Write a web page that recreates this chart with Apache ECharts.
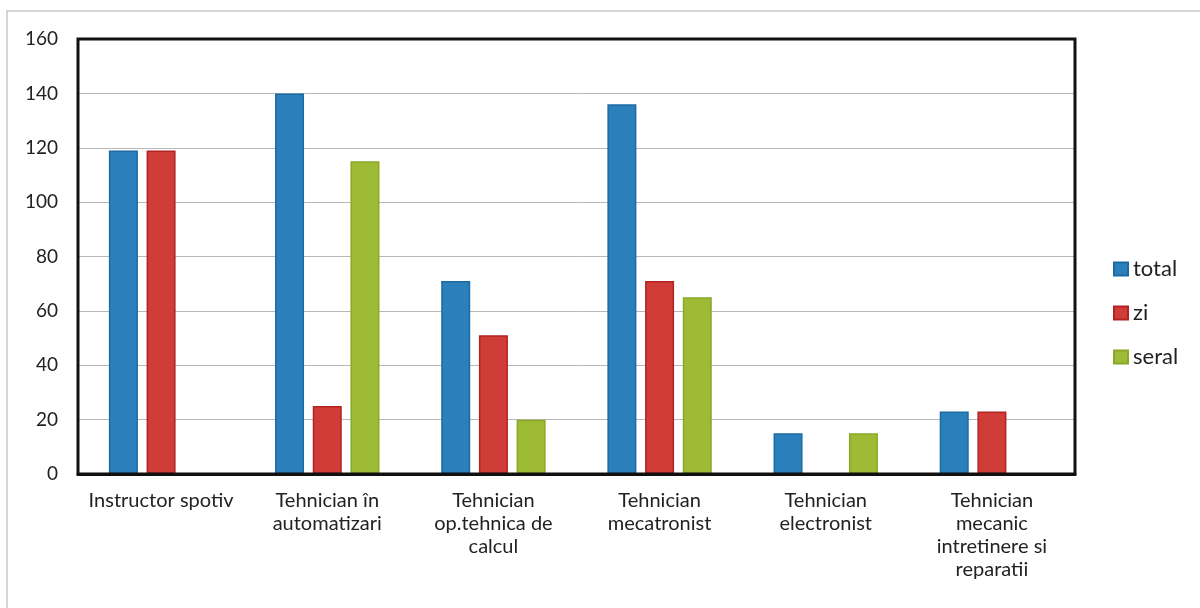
<!DOCTYPE html>
<html>
<head>
<meta charset="utf-8">
<script src="https://cdn.jsdelivr.net/npm/echarts@6/dist/echarts.min.js"></script>
<style>html,body{margin:0;padding:0;background:#fff}#c{width:1200px;height:608px}</style>
</head>
<body>
<div id="c"></div>
<script>
const categories = ['Instructor spotiv', 'Tehnician în\nautomatizari', 'Tehnician\nop.tehnica de\ncalcul', 'Tehnician\nmecatronist', 'Tehnician\nelectronist', 'Tehnician\nmecanic\nintretinere si\nreparatii'];
const total = [119, 140, 71, 136, 15, 23];
const zi = [119, 25, 51, 71, 0, 23];
const seral = [0, 115, 20, 65, 15, 0];
const yTicks = {min: 0, max: 160, interval: 20};

const font = 'Lato, "Open Sans", sans-serif';
const chart = echarts.init(document.getElementById('c'));
function bar(name, data, color, border) {
  return {
    name, type: 'bar', data,
    barWidth: 29, barGap: '30%',
    itemStyle: {color, borderColor: border, borderWidth: 1.5},
    z: 2
  };
}
chart.setOption({
  animation: false,
  backgroundColor: '#fff',
  graphic: [{
    type: 'rect', shape: {x: 7, y: 11, width: 1300, height: 700},
    style: {fill: 'none', stroke: '#c8c8c8', lineWidth: 1.5}, silent: true
  }],
  grid: {left: 78, top: 39, width: 997, height: 435, show: true, borderColor: '#111', borderWidth: 3, backgroundColor: 'transparent', z: 3},
  legend: {
    orient: 'vertical', left: 1108, top: 253, itemWidth: 14, itemHeight: 13, itemGap: 22,
    icon: 'rect',
    textStyle: {fontFamily: font, fontSize: 22, color: '#222', padding: [0, 0, 0, 0]},
    data: ['total', 'zi', 'seral']
  },
  xAxis: {
    type: 'category', data: categories,
    axisLine: {show: true, lineStyle: {color: '#111', width: 3}},
    axisTick: {show: false},
    axisLabel: {fontFamily: font, fontSize: 20, color: '#222', lineHeight: 23, margin: 15, interval: 0}
  },
  yAxis: {
    type: 'value', min: yTicks.min, max: yTicks.max, interval: yTicks.interval,
    axisLine: {show: false}, axisTick: {show: false},
    splitLine: {lineStyle: {color: '#b8b8b8', width: 1}},
    axisLabel: {fontFamily: font, fontSize: 19, color: '#222', margin: 20}
  },
  series: [
    bar('total', total, '#2b80bb', '#1c6aa3'),
    bar('zi', zi, '#d03c37', '#b32222'),
    bar('seral', seral, '#9dbb34', '#8aa828')
  ]
});
</script>
</body>
</html>
